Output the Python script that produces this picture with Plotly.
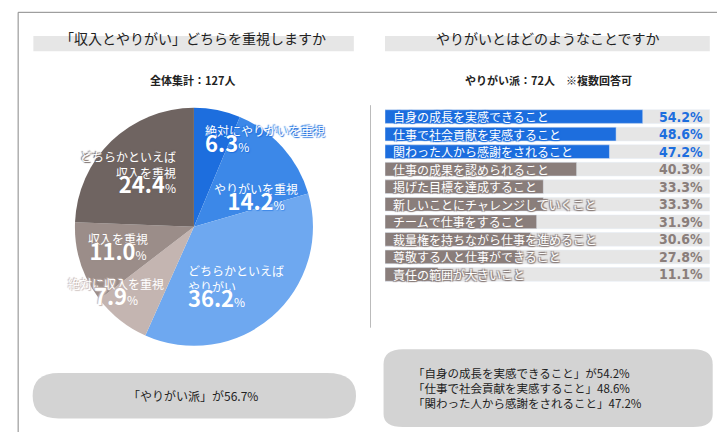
import plotly.graph_objects as go

# left panel: pie
PIE_LABELS = ["絶対にやりがいを重視", "やりがいを重視", "どちらかといえば<br>やりがい",
              "絶対に収入を重視", "収入を重視", "どちらかといえば<br>収入を重視"]
PIE_VALUES = [6.3, 14.2, 36.2, 7.9, 11.0, 24.4]
PIE_COLORS = ["#1d6ede", "#3c88e8", "#6ea8f0", "#c4b5b1", "#9b8d89", "#6f6461"]

# right panel: bars
BAR_LABELS = ["自身の成長を実感できること", "仕事で社会貢献を実感すること",
              "関わった人から感謝をされること", "仕事の成果を認められること",
              "掲げた目標を達成すること", "新しいことにチャレンジしていくこと",
              "チームで仕事をすること", "裁量権を持ちながら仕事を進めること",
              "尊敬する人と仕事ができること", "責任の範囲が大きいこと"]
BAR_VALUES = [54.2, 48.6, 47.2, 40.3, 33.3, 33.3, 31.9, 30.6, 27.8, 11.1]
TRACK_MAX = 68.3

BLUE = "#1d6ede"
TAUPE = "#8a7e7b"
FONT = "Noto Sans CJK JP"

fig = go.Figure()

fig.add_trace(go.Pie(
    values=PIE_VALUES, labels=PIE_LABELS, sort=False, direction="clockwise",
    rotation=0, marker=dict(colors=PIE_COLORS), textinfo="none",
    hoverinfo="label+percent", showlegend=False,
    domain=dict(x=[0.092, 0.421], y=[0.218, 0.769]),
))

bar_colors = [BLUE if i < 3 else TAUPE for i in range(len(BAR_VALUES))]
fig.add_trace(go.Bar(
    y=BAR_LABELS, x=[TRACK_MAX] * len(BAR_LABELS), orientation="h",
    marker=dict(color="#e6e6e6"), width=0.78, hoverinfo="skip", showlegend=False,
))
fig.add_trace(go.Bar(
    y=BAR_LABELS, x=BAR_VALUES, orientation="h", marker=dict(color=bar_colors),
    width=0.78, showlegend=False,
))

# category text inside bars
for lab, c in zip(BAR_LABELS, bar_colors):
    fig.add_annotation(x=0, y=lab, xref="x", yref="y", text=lab, showarrow=False,
                       xanchor="left", xshift=6,
                       font=dict(family=FONT, size=12, color="white",
                                 shadow=f"1px 1px 1px {c}, -1px -1px 1px {c}, 1px -1px 1px {c}, -1px 1px 1px {c}"))
# percentage labels
for lab, v, c in zip(BAR_LABELS, BAR_VALUES, bar_colors):
    fig.add_annotation(x=0.928, y=lab, xref="paper", yref="y", text=f"<b>{v:.1f}%</b>",
                       showarrow=False, xanchor="center",
                       font=dict(family="DejaVu Sans Condensed", size=14, color=c))

# pie labels
pie_text = [
    (0.269, 0.694, "絶対にやりがいを重視", "6.3", "left", BLUE),
    (0.342, 0.56, "やりがいを重視", "14.2", "center", "#3c88e8"),
    (0.245, 0.352, "どちらかといえば<br>やりがい", "36.2", "left", "#6ea8f0"),
    (0.149, 0.34, "絶対に収入を重視", "7.9", "center", "#c4b5b1"),
    (0.152, 0.444, "収入を重視", "11.0", "center", "#9b8d89"),
    (0.235, 0.618, "どちらかといえば<br>収入を重視", "24.4", "right", "#6f6461"),
]
for px, py, name, pct, anchor, c in pie_text:
    fig.add_annotation(
        x=px, y=py, xref="paper", yref="paper",
        text=f"{name}<br><span style='font-size:22px'><b>{pct}</b></span>%",
        showarrow=False, xanchor=anchor, yanchor="middle", align=anchor,
        font=dict(family=FONT, size=12, color="white",
                  shadow=f"1px 1px 1px {c}, -1px -1px 1px {c}"),
    )

# titles
texts = [
    (0.255, 0.93, "「収入とやりがい」どちらを重視しますか", 14),
    (0.255, 0.833, "<b>全体集計：127人</b>", 11),
    (0.745, 0.93, "やりがいとはどのようなことですか", 14),
    (0.745, 0.833, "<b>やりがい派：72人　※複数回答可</b>", 11),
    (0.255, 0.102, "「やりがい派」が56.7%", 12),
]
for tx, ty, t, s in texts:
    fig.add_annotation(x=tx, y=ty, xref="paper", yref="paper", text=t, showarrow=False,
                       xanchor="center", yanchor="middle",
                       font=dict(family=FONT, size=s, color="#222"))
fig.add_annotation(x=0.556, y=0.12, xref="paper", yref="paper", xanchor="left",
                   yanchor="middle",
                   text="「自身の成長を実感できること」が54.2%<br>「仕事で社会貢献を実感すること」48.6%<br>「関わった人から感謝をされること」47.2%",
                   showarrow=False, align="left",
                   font=dict(family=FONT, size=11.5, color="#222"))

shapes = [
    dict(type="rect", x0=0.014, x1=0.986, y0=0.016, y1=0.99, line=dict(color="#888", width=1)),
    dict(type="rect", x0=0.035, x1=0.477, y0=0.9, y1=0.935, fillcolor="#e6e6e6", line_width=0, layer="below"),
    dict(type="rect", x0=0.52, x1=0.968, y0=0.9, y1=0.935, fillcolor="#e6e6e6", line_width=0, layer="below"),
    dict(type="line", x0=0.5, x1=0.5, y0=0.26, y1=0.775, line=dict(color="#bbb", width=1)),
    dict(type="path", path="M 0.07 0.155 L 0.44 0.155 Q 0.48 0.155 0.48 0.102 Q 0.48 0.05 0.44 0.05 L 0.07 0.05 Q 0.034 0.05 0.034 0.102 Q 0.034 0.155 0.07 0.155 Z",
         fillcolor="#d3d3d3", line_width=0, layer="below"),
    dict(type="path", path="M 0.545 0.21 L 0.945 0.21 Q 0.972 0.21 0.972 0.175 L 0.972 0.06 Q 0.972 0.03 0.945 0.03 L 0.545 0.03 Q 0.518 0.03 0.518 0.06 L 0.518 0.175 Q 0.518 0.21 0.545 0.21 Z",
         fillcolor="#d3d3d3", line_width=0, layer="below"),
]
for s in shapes:
    s.update(xref="paper", yref="paper")

fig.update_layout(
    width=725, height=432, margin=dict(l=0, r=0, t=0, b=0),
    paper_bgcolor="white", plot_bgcolor="white", barmode="overlay",
    shapes=shapes, font=dict(family=FONT),
    xaxis=dict(domain=[0.52, 0.968], range=[0, TRACK_MAX], visible=False),
    yaxis=dict(domain=[0.359, 0.773], autorange="reversed", visible=False),
)

fig.write_html("out.html")
